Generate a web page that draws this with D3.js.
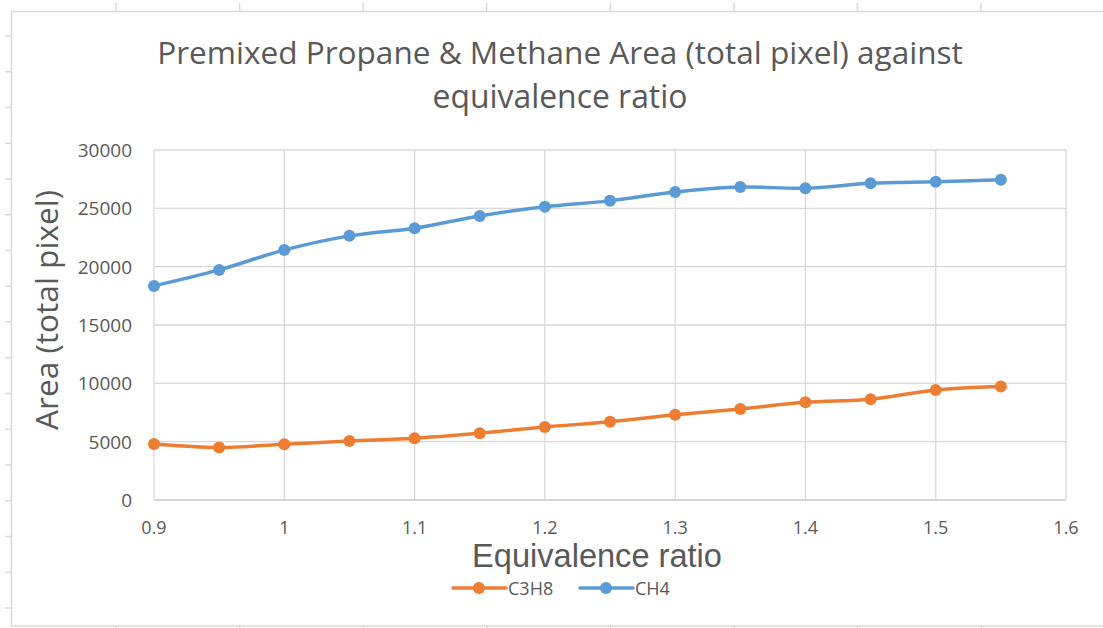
<!DOCTYPE html>
<html>
<meta charset="utf-8">
<head>
    <script src="https://d3js.org/d3.v7.min.js"></script>
    <style>
        body { margin: 0; background: #fff; }
        text { font-family: "Open Sans", sans-serif; fill: #595959; }
    </style>
</head>
<body>
    <script>

        // equivalence ratio values
        var ratios = [0.9, 0.95, 1.0, 1.05, 1.1, 1.15, 1.2, 1.25, 1.3, 1.35, 1.4, 1.45, 1.5, 1.55];

        // area (total pixel)
        var c3h8 = [4800, 4500, 4780, 5060, 5300, 5720, 6260, 6700, 7300, 7800, 8370, 8640, 9430, 9720];
        var ch4 = [18350, 19720, 21430, 22640, 23300, 24350, 25130, 25640, 26400, 26830, 26720, 27150, 27270, 27440];

        var xTicks = [0.9, 1, 1.1, 1.2, 1.3, 1.4, 1.5, 1.6];
        var yTicks = [0, 5000, 10000, 15000, 20000, 25000, 30000];

        var seriesNames = ["C3H8", "CH4"];
        var colors = ["#ED7D31", "#5B9BD5"];

        var width = 1103,
            height = 628;

        var svg = d3.select("body").append("svg")
            .attr("width", width)
            .attr("height", height);

        // spreadsheet cell marks around the chart
        var cols = d3.range(8).map(function(i) { return 116 + i * 123.57; });
        var rows = d3.range(17).map(function(i) { return 36 + i * 35.75; });

        svg.selectAll(".colTop").data(cols).enter().append("line")
            .attr("x1", d => d).attr("x2", d => d)
            .attr("y1", 3).attr("y2", 11)
            .attr("stroke", "#d9d9d9").attr("stroke-width", 1.5);

        svg.selectAll(".colBot").data(cols).enter().append("line")
            .attr("x1", d => d).attr("x2", d => d)
            .attr("y1", 626).attr("y2", 628)
            .attr("stroke", "#d9d9d9").attr("stroke-width", 1.5);

        svg.selectAll(".row").data(rows).enter().append("line")
            .attr("x1", 5).attr("x2", 11)
            .attr("y1", d => d).attr("y2", d => d)
            .attr("stroke", "#d9d9d9").attr("stroke-width", 1.5);

        // chart area border
        svg.append("rect")
            .attr("x", 11.5).attr("y", 11.5)
            .attr("width", 1100).attr("height", 614.5)
            .attr("fill", "white")
            .attr("stroke", "#d9d9d9")
            .attr("stroke-width", 1.5);

        var x = d3.scaleLinear()
            .domain([0.9, 1.6])
            .range([154, 1066]);

        var y = d3.scaleLinear()
            .domain([0, 30000])
            .range([500, 150]);

        var g = svg.append("g");

        // gridlines
        g.selectAll(".vgrid").data(xTicks).enter().append("line")
            .attr("x1", d => x(d)).attr("x2", d => x(d))
            .attr("y1", y(30000)).attr("y2", y(0))
            .attr("stroke", "#d9d9d9").attr("stroke-width", 1.3);

        g.selectAll(".hgrid").data(yTicks).enter().append("line")
            .attr("x1", x(0.9)).attr("x2", x(1.6))
            .attr("y1", d => y(d)).attr("y2", d => y(d))
            .attr("stroke", d => d == 0 ? "#c8c8c8" : "#d9d9d9")
            .attr("stroke-width", 1.3);

        // tick labels
        g.selectAll(".ylab").data(yTicks).enter().append("text")
            .attr("x", 132)
            .attr("y", d => y(d) + 7)
            .attr("text-anchor", "end")
            .style("font-size", "19px")
            .text(d => d);

        g.selectAll(".xlab").data(xTicks).enter().append("text")
            .attr("x", d => x(d))
            .attr("y", 534)
            .attr("text-anchor", "middle")
            .style("font-size", "18px")
            .text(d => d3.format("")(d));

        // lines
        var series = [c3h8, ch4];

        var line = d3.line()
            .x((d, i) => x(ratios[i]))
            .y(d => y(d))
            .curve(d3.curveCatmullRom.alpha(0.5));

        series.forEach(function(vals, k) {
            g.append("path")
                .attr("d", line(vals))
                .attr("fill", "none")
                .attr("stroke", colors[k])
                .attr("stroke-width", 3.5)
                .attr("stroke-linecap", "round");

            g.selectAll(".dot" + k).data(vals).enter().append("circle")
                .attr("cx", (d, i) => x(ratios[i]))
                .attr("cy", d => y(d))
                .attr("r", 6)
                .attr("fill", colors[k]);
        });

        // fit text to a measured width
        function fit(sel, w) {
            var len = sel.node().getComputedTextLength();
            var fs = parseFloat(sel.style("font-size"));
            sel.style("font-size", (fs * w / len) + "px");
        }

        var t1 = svg.append("text")
            .attr("x", 560).attr("y", 64)
            .attr("text-anchor", "middle")
            .style("font-size", "28px")
            .text("Premixed Propane & Methane Area (total pixel) against");
        fit(t1, 806);

        var t2 = svg.append("text")
            .attr("x", 560).attr("y", 108)
            .attr("text-anchor", "middle")
            .style("font-size", "28px")
            .text("equivalence ratio");
        fit(t2, 255);

        var yt = svg.append("text")
            .attr("transform", "translate(58,310) rotate(-90)")
            .attr("text-anchor", "middle")
            .style("font-size", "28px")
            .text("Area (total pixel)");
        fit(yt, 240);

        var xt = svg.append("text")
            .attr("x", 597).attr("y", 567)
            .attr("text-anchor", "middle")
            .style("font-family", "'Liberation Sans', sans-serif")
            .style("font-size", "28px")
            .text("Equivalence ratio");
        fit(xt, 250);

        // legend
        var legX = [453, 580];
        seriesNames.forEach(function(name, k) {
            var lg = svg.append("g").attr("transform", "translate(" + legX[k] + ",588)");
            lg.append("line")
                .attr("x1", 0).attr("x2", 53)
                .attr("y1", 0).attr("y2", 0)
                .attr("stroke", colors[k])
                .attr("stroke-width", 3.5)
                .attr("stroke-linecap", "round");
            lg.append("circle")
                .attr("cx", 26).attr("cy", 0)
                .attr("r", 6)
                .attr("fill", colors[k]);
            lg.append("text")
                .attr("x", 55).attr("y", 7)
                .style("font-size", "18px")
                .text(name);
        });

    </script>
</body>
</html>
